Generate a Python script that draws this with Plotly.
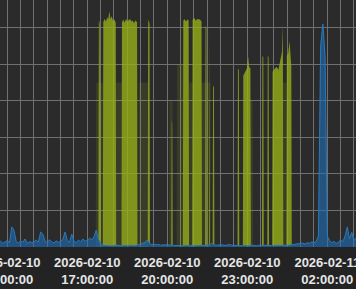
import plotly.graph_objects as go
import pandas as pd

# ---- data -------------------------------------------------------------
blue_start = "2026-02-10 13:40:00"
blue_step_min = 5
blue_values = [
    1.2, 1.6, 1.0, 1.4,
    1.8, 1.2, 5.5, 4.6, 1.5, 1.1, 1.7, 1.3, 2.2, 1.0, 1.5, 1.2,
    1.4, 1.9, 1.3, 4.1, 3.5, 1.6, 1.2, 2.0, 1.4, 1.1, 1.7, 1.3,
    1.5, 2.1, 4.1, 1.8, 1.3, 3.5, 1.6, 1.2, 1.9, 1.4, 2.2, 1.6,
    1.8, 2.4, 2.0, 2.8, 4.6, 2.2, 1.0, 0.5, 0.4, 0.3, 0.4, 0.3,
    0.4, 0.3, 0.5, 0.3, 0.4, 0.3, 0.4, 0.3, 0.5, 0.3, 0.4, 0.6,
    0.8, 1.0, 1.3, 1.9, 0.9, 0.7, 0.8, 0.6, 0.7, 0.5, 0.6, 0.5,
    0.6, 0.5, 0.7, 0.4, 0.5, 0.4, 0.3, 0.4, 0.3, 0.4, 0.3, 0.4,
    0.3, 0.4, 0.3, 0.5, 0.4, 0.3, 0.6, 0.5, 1.0, 0.6, 0.5, 0.6,
    0.5, 0.6, 0.4, 0.5, 0.7, 0.5, 0.4, 0.5, 0.4, 0.3, 0.4, 0.3,
    0.4, 0.3, 0.5, 0.4, 0.3, 0.5, 0.6, 0.4, 0.5, 0.4, 0.3, 0.4,
    0.4, 0.3, 0.4, 0.5, 0.3, 0.4, 0.3, 0.5, 0.6, 0.7, 0.8, 0.9,
    0.9, 1.1, 0.8, 1.2, 1.0, 1.4, 1.1, 1.6, 3.0, 55.0, 61.0, 52.0,
    3.0, 1.8, 1.2, 1.5, 1.0, 1.3, 2.0, 1.4, 3.0, 5.5, 2.2, 4.0,
    1.8, 2.5, 1.5,
]

olive_times = [
    "2026-02-10 17:25", "2026-02-10 17:26", "2026-02-10 17:28", "2026-02-10 17:29",
    "2026-02-10 17:35", "2026-02-10 17:36", "2026-02-10 17:39", "2026-02-10 17:42",
    "2026-02-10 17:45", "2026-02-10 17:47", "2026-02-10 17:49", "2026-02-10 17:50",
    "2026-02-10 17:52", "2026-02-10 17:55", "2026-02-10 17:58", "2026-02-10 18:01",
    "2026-02-10 18:04", "2026-02-10 18:05",
    "2026-02-10 18:17", "2026-02-10 18:18", "2026-02-10 18:21", "2026-02-10 18:24",
    "2026-02-10 18:27", "2026-02-10 18:30", "2026-02-10 18:33", "2026-02-10 18:36",
    "2026-02-10 18:39", "2026-02-10 18:42", "2026-02-10 18:45", "2026-02-10 18:48",
    "2026-02-10 18:51", "2026-02-10 18:52", "2026-02-10 18:53",
    "2026-02-10 19:16", "2026-02-10 19:17", "2026-02-10 19:20", "2026-02-10 19:21",
    "2026-02-10 20:09", "2026-02-10 20:10", "2026-02-10 20:11", "2026-02-10 20:12",
    "2026-02-10 20:35", "2026-02-10 20:36", "2026-02-10 20:39", "2026-02-10 20:42",
    "2026-02-10 20:45", "2026-02-10 20:48", "2026-02-10 20:49",
    "2026-02-10 20:56", "2026-02-10 20:57", "2026-02-10 21:01", "2026-02-10 21:04",
    "2026-02-10 21:08", "2026-02-10 21:12", "2026-02-10 21:17", "2026-02-10 21:18",
    "2026-02-10 21:25", "2026-02-10 21:26", "2026-02-10 21:28", "2026-02-10 21:29",
    "2026-02-10 21:34", "2026-02-10 21:35", "2026-02-10 21:36",
    "2026-02-10 21:42", "2026-02-10 21:43", "2026-02-10 21:45", "2026-02-10 21:46",
    "2026-02-10 22:38", "2026-02-10 22:39", "2026-02-10 22:41", "2026-02-10 22:42",
    "2026-02-10 22:50", "2026-02-10 22:51", "2026-02-10 22:55", "2026-02-10 22:59",
    "2026-02-10 23:02", "2026-02-10 23:04", "2026-02-10 23:07", "2026-02-10 23:08",
    "2026-02-10 23:33", "2026-02-10 23:34", "2026-02-10 23:36", "2026-02-10 23:37",
    "2026-02-10 23:45", "2026-02-10 23:46", "2026-02-10 23:48", "2026-02-10 23:49",
    "2026-02-10 23:56", "2026-02-10 23:57", "2026-02-11 00:02", "2026-02-11 00:06",
    "2026-02-11 00:10", "2026-02-11 00:14", "2026-02-11 00:18", "2026-02-11 00:20",
    "2026-02-11 00:21",
    "2026-02-11 00:28", "2026-02-11 00:29", "2026-02-11 00:32", "2026-02-11 00:35",
    "2026-02-11 00:37", "2026-02-11 00:39", "2026-02-11 00:40",
]
olive_values = [
    0, 60.2, 59.5, 0,
    0, 61.0, 62.0, 61.2,
    62.6, 61.8, 63.5, 64.0,
    62.0, 62.8, 61.5, 61.8,
    61.0, 0,
    0, 61.0, 61.8, 61.0,
    62.0, 61.3, 61.6, 62.1,
    61.2, 61.5, 60.9, 61.6,
    61.2, 61.0, 0,
    0, 60.7, 60.2, 0,
    0, 34.0, 33.0, 0,
    0, 61.5, 62.0, 61.3,
    61.8, 61.6, 0,
    0, 61.8, 62.3, 61.5,
    62.0, 61.9, 61.2, 0,
    0, 60.0, 59.5, 0,
    0, 59.3, 0,
    0, 43.5, 43.0, 0,
    0, 48.4, 48.0, 0,
    0, 46.5, 47.5, 48.4,
    51.7, 49.0, 48.4, 0,
    0, 51.7, 51.5, 0,
    0, 52.0, 51.5, 0,
    0, 47.5, 48.4, 49.0,
    48.0, 50.0, 53.0, 60.7,
    0,
    0, 52.0, 52.5, 55.8,
    50.0, 49.0, 0,
]

dim_times = [
    "2026-02-10 17:19", "2026-02-10 17:20", "2026-02-10 17:36", "2026-02-10 17:37",
    "2026-02-10 18:03", "2026-02-10 18:04", "2026-02-10 18:18", "2026-02-10 18:19",
    "2026-02-10 18:55", "2026-02-10 18:56", "2026-02-10 19:17", "2026-02-10 19:18",
    "2026-02-10 20:04", "2026-02-10 20:05", "2026-02-10 20:12", "2026-02-10 20:13",
    "2026-02-10 20:21", "2026-02-10 20:22", "2026-02-10 20:36", "2026-02-10 20:37",
    "2026-02-10 20:47", "2026-02-10 20:48", "2026-02-10 20:57", "2026-02-10 20:58",
    "2026-02-10 21:16", "2026-02-10 21:17", "2026-02-10 21:37", "2026-02-10 21:38",
    "2026-02-10 23:06", "2026-02-10 23:07", "2026-02-10 23:12", "2026-02-10 23:13",
    "2026-02-11 00:19", "2026-02-11 00:20", "2026-02-11 00:29", "2026-02-11 00:30",
]
dim_values = [
    0, 45, 45, 0,
    0, 45, 45, 0,
    0, 45, 45, 0,
    0, 40, 40, 0,
    0, 50, 50, 0,
    0, 45, 45, 0,
    0, 45, 45, 0,
    0, 40, 40, 0,
    0, 45, 45, 0,
]

tick_start = "2026-02-10 14:00:00"
x_range = ["2026-02-10 13:43:35", "2026-02-11 03:04:35"]
y_range = [0, 67.54]

# ---- figure -----------------------------------------------------------
blue_times = pd.date_range(blue_start, periods=len(blue_values), freq=f"{blue_step_min}min")

olive_rgba = "rgba(150,175,25,0.8)"

fig = go.Figure()
fig.add_trace(go.Scatter(
    x=dim_times, y=dim_values, mode="lines", fill="tozeroy",
    line=dict(width=0), fillcolor="rgba(150,175,25,0.14)", hoverinfo="skip",
))
fig.add_trace(go.Scatter(
    x=blue_times, y=blue_values, mode="lines", stackgroup="s", stackgaps="interpolate",
    line=dict(color="#2a78bb", width=1), fillcolor="rgba(31,110,185,0.6)",
))
fig.add_trace(go.Scatter(
    x=olive_times, y=olive_values, mode="lines", stackgroup="s", stackgaps="interpolate",
    line=dict(color=olive_rgba, width=0), fillcolor=olive_rgba,
))

grid = "#707070"
fig.update_layout(
    width=356, height=289,
    margin=dict(l=0, r=0, t=0, b=42, pad=0),
    paper_bgcolor="#232323", plot_bgcolor="#2b2b2b",
    showlegend=False,
    xaxis=dict(
        type="date", range=x_range, tick0=tick_start, dtick=3 * 3600 * 1000,
        tickformat="%Y-%m-%d<br>%H:%M:%S", showgrid=True, gridcolor=grid, gridwidth=1,
        minor=dict(dtick=30 * 60 * 1000, tick0=tick_start, showgrid=True, gridcolor=grid, gridwidth=1),
        tickfont=dict(family="Liberation Sans, Arial", size=13, color="#e6e6e6", weight="bold"),
        ticks="", ticklabelstandoff=6,
        zeroline=False, showline=False, automargin=False, ticklabeloverflow="allow",
    ),
    yaxis=dict(
        range=y_range, dtick=10, showgrid=True, gridcolor=grid, gridwidth=1,
        showticklabels=False, zeroline=False, showline=False, automargin=False, ticks="",
    ),
)

fig.write_html("out.html")
